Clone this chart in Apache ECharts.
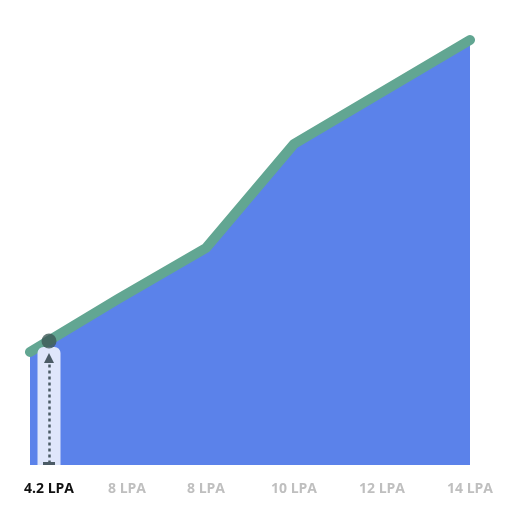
<!DOCTYPE html>
<html>
<head>
<meta charset="utf-8">
<script src="https://cdn.jsdelivr.net/npm/echarts@6/dist/echarts.min.js"></script>
<style>
  html, body { margin: 0; padding: 0; background: #fff; }
  #chart { width: 512px; height: 512px; }
</style>
</head>
<body>
<div id="chart"></div>
<script>
// 数据
const categories = ['4.2 LPA', '8 LPA', '8 LPA', '10 LPA', '12 LPA', '14 LPA'];
const lineValues = [113, 166, 217, 321, 373, 425];
// 选中点 (在隐藏数值轴上的位置)
const pickX = 0.216;
const pickY = 124;
const bandTop = 118;

let myChart = echarts.init(document.getElementById('chart'));

let labelBase = { fontFamily: 'Open Sans', fontWeight: 'bold', fontSize: 14 };

let option = {
    animation: false,
    grid: { left: 30, right: 42, top: 15, bottom: 47 },
    xAxis: [
        {
            type: 'category',
            data: categories,
            boundaryGap: false,
            axisLine: { show: false },
            axisTick: { show: false },
            axisLabel: {
                interval: 0,
                margin: 17,
                fontFamily: 'Open Sans',
                fontWeight: 'bold',
                fontSize: 14,
                alignMinLabel: 'left',
                formatter: (val, idx) => {
                    if (idx === 0) return '{first|' + val + '}';
                    if (idx === 1) return '{second|' + val + '}';
                    return '{other|' + val + '}';
                },
                rich: {
                    first: Object.assign({}, labelBase, { color: '#111111', padding: [0, 0, 0, -6] }),
                    second: Object.assign({}, labelBase, { color: '#bfbfbf', padding: [0, 0, 0, 18] }),
                    other: Object.assign({}, labelBase, { color: '#bfbfbf' })
                }
            }
        },
        {
            type: 'value',
            min: 0,
            max: categories.length - 1,
            show: false
        }
    ],
    yAxis: {
        type: 'value',
        min: 0,
        max: 450,
        show: false,
        splitLine: { show: false }
    },
    series: [
        {
            type: 'line',
            data: lineValues,
            symbol: 'none',
            lineStyle: { color: '#62a692', width: 10, cap: 'round', join: 'round' },
            areaStyle: { color: '#5b82ea', opacity: 1 },
            z: 2
        },
        {
            type: 'bar',
            xAxisIndex: 1,
            data: [[pickX, bandTop]],
            barWidth: 23,
            itemStyle: { color: '#dfe6fb', borderRadius: [6, 6, 0, 0] },
            z: 3
        },
        {
            type: 'scatter',
            xAxisIndex: 1,
            data: [[pickX, pickY]],
            symbolSize: 15,
            itemStyle: { color: '#3d5956' },
            z: 5,
            markLine: {
                silent: true,
                lineStyle: { color: '#4b5b66', type: [3, 3], width: 2.5 },
                label: { show: false },
                data: [[
                    { coord: [pickX, 1.5], symbol: 'rect', symbolSize: [12, 3], symbolRotate: 0 },
                    { coord: [pickX, 107], symbol: 'triangle', symbolSize: [10, 10], symbolRotate: 0 }
                ]]
            }
        }
    ]
};
myChart.setOption(option);
</script>
</body>
</html>
